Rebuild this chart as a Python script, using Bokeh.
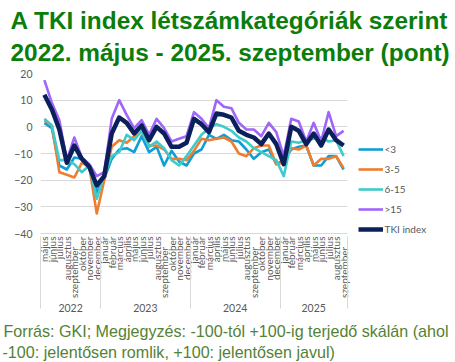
import math
from bokeh.plotting import figure
from bokeh.models import (FactorRange, ColumnDataSource, Legend, LegendItem, Title,
                          FixedTicker)
from bokeh.embed import file_html
from bokeh.resources import INLINE

# ---------------- data ----------------
month_names = ["január", "február", "március", "április", "május", "június",
               "július", "augusztus", "szeptember", "október", "november", "december"]
years = ["2022"] * 8 + ["2023"] * 12 + ["2024"] * 12 + ["2025"] * 9
months = month_names[4:] + month_names + month_names + month_names[:9]

lt3 = [1.5, -0.5, -14.5, -16, -11.5, -12, -14.5, -24.5, -19.5, -12, -8.5, -8, -9.5, -3.5,
       -9.5, -7.5, -14.5, -9, -13, -14.5, -10, -8.5, -3, -4.5, -3, -5, -5.5, -8.5, -12,
       -9.5, -8.5, -14, -12.5, -8.5, -7.5, -7, -14.5, -14.5, -11, -11, -16]
s3_5 = [2.5, 0.5, -17, -18, -19, -13.5, -15, -32.5, -20, -7.5, -5, -6, -3.5, -2,
        -7, -7, -8.5, -12, -12, -12.5, -9, -4.5, -5, -4.5, -4, -5.5, -10, -11, -8,
        -7, -7, -14, -13.5, -8, -8.5, -7, -14.5, -12, -12, -11, -15.5]
s6_15 = [3, 0.5, -12.5, -12.5, -14, -17, -14.5, -27, -18, -11, -9.5, -3, -5, -1.5,
         -7.5, -5.5, -8, -12.5, -14.5, -11, -7, -3, -0.5, 1, 0, -1.5, -4, -5.5, -8,
         -9.5, -11, -12.5, -18.5, -5.5, -6, -5, -4.5, -4, -5.5, -5, -11]
gt15 = [17.5, 9, 2.5, -12.5, -4, -11.5, -14, -18.5, -17, 3, 10, 4.5, -0.5, 2.5,
        -3, 3, -0.5, -5.5, -4.5, -3.5, 5.5, 3, -0.5, 10, 7.5, 7, 1.5, -1, -1,
        -3.5, 1.5, -2, -11, 3, 2, -5.5, 1.5, -5.5, 5.5, -3.5, -1.5]
tki = [12, 6.5, -1, -13.5, -7, -12, -15, -22, -18.5, -2.5, 3.5, 1.5, -2.5, 0.5,
       -5, 0, -2.5, -7.5, -7.5, -6, 3, 1, -2, 5, 4.5, 3.5, -1.5, -3, -4,
       -6.5, -2.5, -6.5, -14, 0, -1.5, -6.5, -2.5, -7, -1, -5, -7]

series_names = ["<3", "3-5", "6-15", ">15", "TKI index"]
y_ticks = [-40, -30, -20, -10, 0, 10, 20]

title_lines = ["A TKI index létszámkategóriák szerint",
               "2022. május - 2025. szeptember (pont)"]
footer_lines = ["Forrás: GKI; Megjegyzés: -100-tól +100-ig terjedő skálán (ahol",
                "-100: jelentősen romlik, +100: jelentősen javul)"]

# ---------------- figure ----------------
# leading spaces on the longest month name only widen the axis band (labels are
# right-aligned at the axis line), leaving room above the year labels
axis_months = ["    " + m if m == "szeptember" else m for m in months]
factors = list(zip(years, axis_months))
# empty edge groups, trimmed off by a negative padding, so that the axis draws
# group separators at both ends of the category axis too
edge_factors = [(" ", " ")] + factors + [("  ", "  ")]
source = ColumnDataSource(dict(x=factors, lt3=lt3, s3_5=s3_5, s6_15=s6_15, gt15=gt15, tki=tki))

xr = FactorRange(*edge_factors, factor_padding=0, group_padding=0, subgroup_padding=0,
                 range_padding=-0.98, range_padding_units="absolute")
p = figure(x_range=xr, y_range=(-40, 20), frame_width=307, frame_height=160,
           min_border_left=40, min_border_top=73, min_border_right=108,
           min_border_bottom=129, output_backend="svg", toolbar_location=None)

p.outline_line_color = None
p.background_fill_color = "white"
p.border_fill_color = "white"
p.xgrid.grid_line_color = None
p.ygrid.grid_line_color = "#d9d9d9"
p.ygrid.grid_line_width = 1

p.yaxis.ticker = FixedTicker(ticks=y_ticks)
p.yaxis.axis_line_color = None
p.yaxis.major_tick_line_color = None
p.yaxis.minor_tick_line_color = None
p.yaxis.major_tick_out = 0
p.yaxis.major_tick_in = 0
p.yaxis.major_label_standoff = 8
p.yaxis.major_label_text_font = "Lato"
p.yaxis.major_label_text_font_size = "10.5px"
p.yaxis.major_label_text_color = "#595959"

p.xaxis.axis_line_color = "#d9d9d9"
p.xaxis.major_tick_line_color = None
p.xaxis.minor_tick_line_color = None
p.xaxis.major_tick_out = 0
p.xaxis.major_tick_in = 0
p.xaxis.major_label_orientation = math.pi / 2
p.xaxis.major_label_standoff = 3
p.xaxis.major_label_text_font = "Lato"
p.xaxis.major_label_text_font_size = "10px"
p.xaxis.major_label_text_color = "#595959"
p.xaxis.group_text_font = "Lato"
p.xaxis.group_text_font_size = "10.5px"
p.xaxis.group_text_font_style = "normal"
p.xaxis.group_text_color = "#595959"
p.xaxis.separator_line_color = "#d9d9d9"
p.xaxis.separator_line_width = 1

colors = ["#0f9ed5", "#ee7d31", "#3ecbcc", "#a066fa", "#0b1f5b"]
widths = [2.6, 2.6, 2.6, 2.6, 4.5]
cols = ["lt3", "s3_5", "s6_15", "gt15", "tki"]
items = []
for name, col, c, w in zip(series_names, cols, colors, widths):
    r = p.line("x", col, source=source, line_color=c, line_width=w, line_join="round")
    items.append(LegendItem(label=name, renderers=[r]))

legend = Legend(items=items, location=(10.5, -6), glyph_width=25, glyph_height=20,
                label_height=20, spacing=0, label_standoff=2, padding=0, margin=0,
                border_line_color=None, background_fill_alpha=0,
                label_text_font="Lato", label_text_font_size="10px",
                label_text_color="#595959", label_width=60)
p.add_layout(legend, "right")

# title (closest to the plot first) and footer
p.add_layout(Title(text=title_lines[1], align="left", offset=-30, standoff=15,
                   text_font="Liberation Sans", text_font_style="bold",
                   text_font_size="24.4px", text_color="#0a7d0a"), "above")
p.add_layout(Title(text=title_lines[0], align="left", offset=-30, standoff=-8.5,
                   text_font="Liberation Sans", text_font_style="bold",
                   text_font_size="24.4px", text_color="#0a7d0a"), "above")
p.add_layout(Title(text=footer_lines[0], align="left", offset=-37, standoff=11,
                   text_font="Liberation Sans", text_font_style="normal",
                   text_font_size="16.1px", text_color="#548235"), "below")
p.add_layout(Title(text=footer_lines[1], align="left", offset=-38, standoff=-9,
                   text_font="Liberation Sans", text_font_style="normal",
                   text_font_size="16.1px", text_color="#548235"), "below")

open("out.html", "w").write(file_html(p, INLINE))
